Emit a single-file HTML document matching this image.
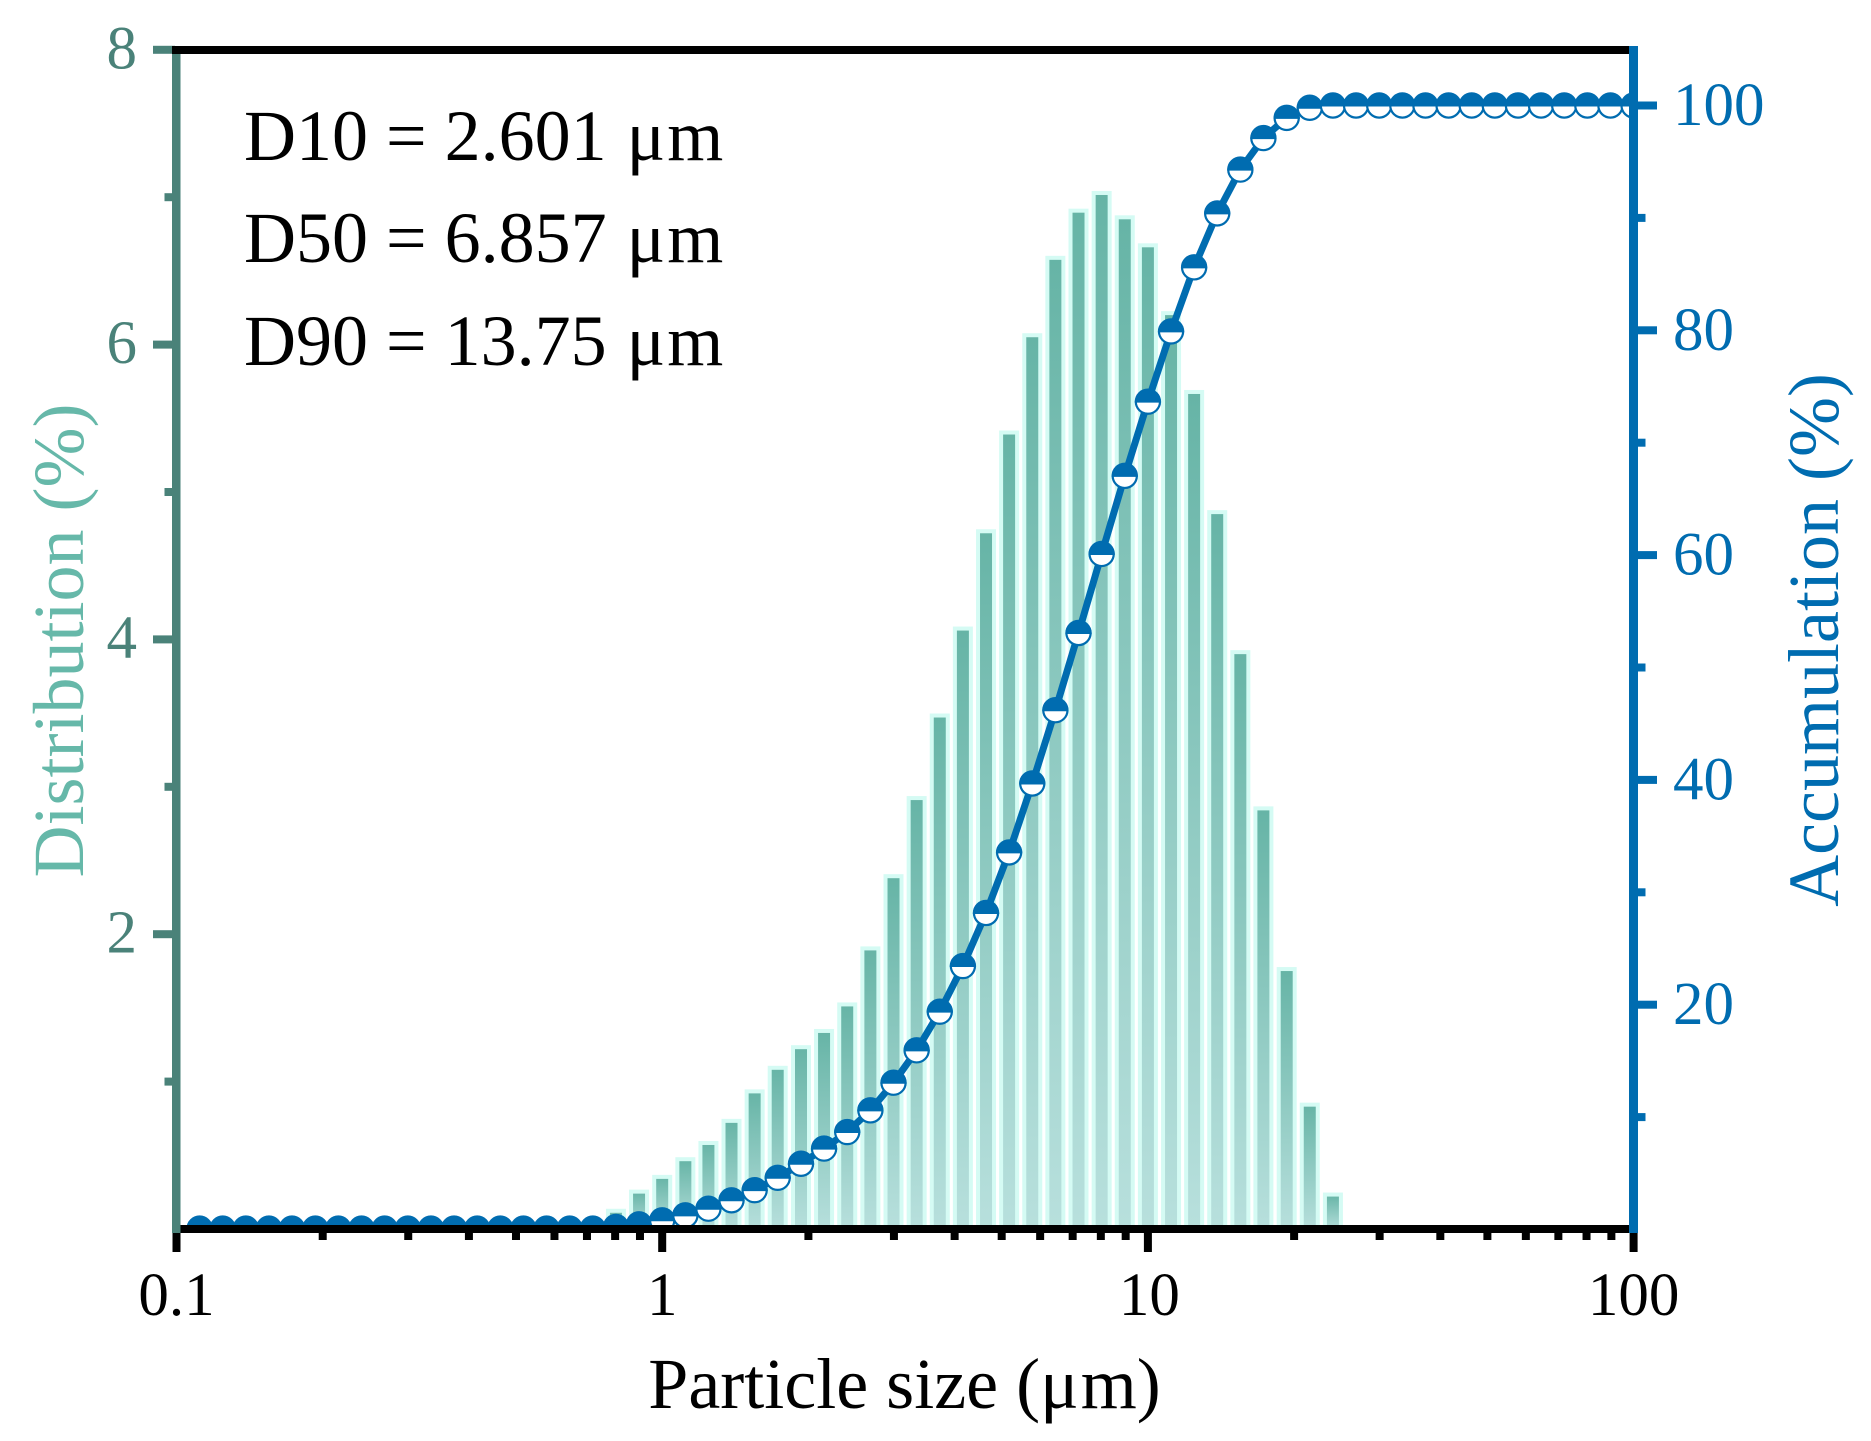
<!DOCTYPE html>
<html lang="en">
<head>
<meta charset="utf-8">
<title>Particle size distribution</title>
<style>
html,body{margin:0;padding:0;background:#fff;}
svg{display:block;}
text{font-family:"Liberation Serif","Times New Roman",serif;}
</style>
</head>
<body>
<svg id="chart" xmlns="http://www.w3.org/2000/svg" width="1871" height="1441" viewBox="0 0 1871 1441">
  <defs>
    <linearGradient id="barGrad" x1="0" y1="0" x2="0" y2="1">
      <stop offset="0" stop-color="#66b4a6"/>
      <stop offset="1" stop-color="#b8e0dd"/>
    </linearGradient>
    <clipPath id="plotClip"><rect x="150" y="40" width="1484" height="1193"/></clipPath>
  </defs>
  <rect x="0" y="0" width="1871" height="1441" fill="#ffffff"/>
  <g id="bars"></g>
  <g id="cumulative" clip-path="url(#plotClip)"></g>
  <g id="axes"></g>
  <g font-size="72" fill="#000">
    <text x="244" y="160">D10 = 2.601 <tspan dx="2">μ</tspan><tspan dx="2">m</tspan></text>
    <text x="244" y="262">D50 = 6.857 <tspan dx="2">μ</tspan><tspan dx="2">m</tspan></text>
    <text x="244" y="365">D90 = 13.75 <tspan dx="2">μ</tspan><tspan dx="2">m</tspan></text>
  </g>
  <text x="904.5" y="1408" font-size="72" text-anchor="middle" fill="#000">Particle size (μ<tspan dx="2">m</tspan>)</text>
  <text transform="translate(83,640.5) rotate(-90)" font-size="72" text-anchor="middle" fill="#66b8a9">Distribution (%)</text>
  <text transform="translate(1838,640) rotate(-90)" font-size="72" text-anchor="middle" fill="#006cb0">Accumulation (%)</text>
</svg>
<script>
const particleSizes = [0.1116,0.1245,0.1389,0.1550,0.1729,0.1931,0.2154,0.2404,0.2683,0.2994,0.3341,0.3728,0.4160,0.4642,0.5179,0.5780,0.6449,0.7197,0.8031,0.8961,1.000,1.116,1.245,1.389,1.550,1.729,1.931,2.154,2.404,2.683,2.994,3.341,3.728,4.160,4.642,5.179,5.780,6.449,7.197,8.031,8.961,10.00,11.16,12.45,13.89,15.50,17.29,19.31,21.54,24.04,26.83,29.94,33.41,37.28,41.60,46.42,51.79,57.80,64.49,71.97,80.31,89.61,100.0];
const distributionValues = [0,0,0,0,0,0,0,0,0,0,0,0,0,0,0,0,0,0,0.11,0.24,0.34,0.46,0.57,0.72,0.92,1.08,1.22,1.33,1.51,1.89,2.38,2.91,3.47,4.06,4.72,5.39,6.05,6.575,6.895,7.015,6.85,6.66,6.2,5.665,4.85,3.9,2.84,1.75,0.83,0.22,0,0,0,0,0,0,0,0,0,0,0,0,0];
const accumulationValues = [0.08,0.08,0.08,0.08,0.08,0.08,0.08,0.08,0.08,0.08,0.08,0.08,0.08,0.08,0.08,0.08,0.08,0.08,0.23,0.46,0.82,1.26,1.85,2.6,3.5,4.6,5.85,7.2,8.67,10.6,13.06,15.94,19.38,23.44,28.16,33.55,39.68,46.2,53.07,60.1,67.05,73.65,79.9,85.6,90.4,94.3,97.1,98.9,99.8,100,100,100,100,100,100,100,100,100,100,100,100,100,100];
const xTickLabels = ["0.1","1","10","100"];
const xTickValues = [0.1,1,10,100];
const xMinorMultipliers = [2,3,4,5,6,7,8,9];
const leftMajorTicks = [2,4,6,8];
const leftMinorTicks = [1,3,5,7];
const rightMajorTicks = [20,40,60,80,100];
const rightMinorTicks = [10,30,50,70,90];

const NS = "http://www.w3.org/2000/svg";
const BLUE = "#006cb0", TEAL = "#4a8279", LIGHT = "#d5fbf4";
function xScale(v){ return 176.5 + (Math.log10(v) + 1) * 485.7; }
function yLeft(v){ return 1229 - v * 147.4; }
function yRight(v){ return 1229.5 - v * 11.24; }
function make(tag, attrs, parent){
  const el = document.createElementNS(NS, tag);
  for (const k in attrs) el.setAttribute(k, attrs[k]);
  parent.appendChild(el);
  return el;
}

const barsG = document.getElementById("bars");
particleSizes.forEach(function(size, i){
  const v = distributionValues[i];
  if (v <= 0) return;
  const top = yLeft(v) - 2;
  const bar = make("rect", {x: xScale(size) - 8, y: top, width: 16, height: 1231 - top, fill: "url(#barGrad)", stroke: LIGHT, "stroke-width": 4}, barsG);
  
  
});

const cumG = document.getElementById("cumulative");
const linePts = particleSizes.map(function(size, i){ return xScale(size).toFixed(2) + "," + yRight(accumulationValues[i]).toFixed(2); }).join(" ");
const cumLine = make("polyline", {points: linePts, fill: "none", stroke: BLUE, "stroke-width": 7, "stroke-linejoin": "round"}, cumG);


const R = 12.1;
particleSizes.forEach(function(size, i){
  const cx = xScale(size), cy = yRight(accumulationValues[i]);
  const marker = make("g", {}, cumG);
  
  
  make("circle", {cx: cx, cy: cy, r: R, fill: "#ffffff", stroke: BLUE, "stroke-width": 2.2}, marker);
  make("path", {d: "M" + (cx - R - 1.1) + " " + (cy + 1) + " A" + (R + 1.1) + " " + (R + 1.1) + " 0 0 1 " + (cx + R + 1.1) + " " + (cy + 1) + " Z", fill: BLUE}, marker);
});

const axesG = document.getElementById("axes");
function bar(x, y, w, h, fill, name){
  const r = make("rect", {x: x, y: y, width: w, height: h, fill: fill}, axesG);
  
  
  return r;
}
function label(str, x, y, anchor, fill, name){
  const t = make("text", {x: x, y: y, "font-size": 61, "text-anchor": anchor, fill: fill}, axesG);
  t.textContent = str;
  
  
  return t;
}

bar(172, 1225, 1466, 8, "#000000", "bottom-axis-line");
bar(172, 50, 8.5, 1183, TEAL, "left-axis-line");
leftMajorTicks.forEach(function(v){
  const y = yLeft(v);
  bar(153, y - 4, 22, 8, TEAL, "left-major-tick");
  label(String(v), 137, y + 18.5, "end", TEAL, "left-tick-label");
});
leftMinorTicks.forEach(function(v){
  bar(164.5, yLeft(v) - 4, 10, 8, TEAL, "left-minor-tick");
});
bar(172, 46, 1466, 8, "#000000", "top-axis-line");
bar(1629, 46, 9, 1187, BLUE, "right-axis-line");

xTickValues.forEach(function(v, i){
  const x = xScale(v);
  bar(x - 4, 1233, 8, 19, "#000000", "x-major-tick");
  label(xTickLabels[i], x + (v === 10 ? 1.5 : 0), 1315, "middle", "#000000", "x-tick-label");
});
xTickValues.slice(0, 3).forEach(function(dec){
  xMinorMultipliers.forEach(function(m){
    bar(xScale(dec * m) - 4, 1233, 8, 7, "#000000", "x-minor-tick");
  });
});
rightMajorTicks.forEach(function(v){
  const y = yRight(v);
  bar(1634, y - 4, 23, 8, BLUE, "right-major-tick");
  label(String(v), 1673, y + 19.5, "start", BLUE, "right-tick-label");
});
rightMinorTicks.forEach(function(v){
  bar(1634, yRight(v) - 4, 11.5, 8, BLUE, "right-minor-tick");
});
</script>
</body>
</html>
